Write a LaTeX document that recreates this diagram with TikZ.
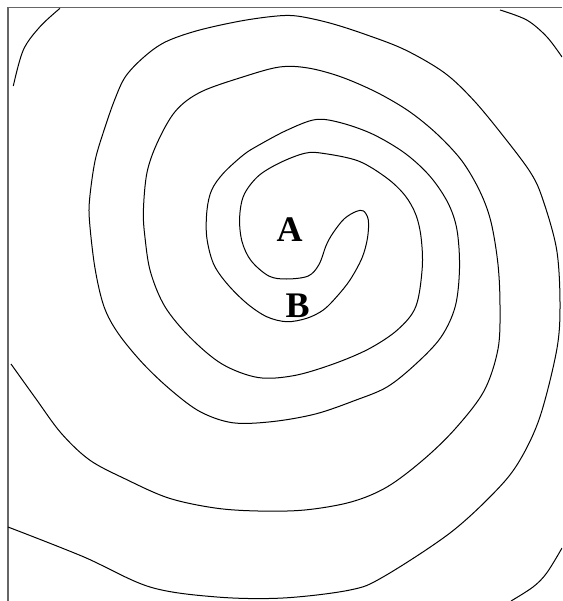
\documentclass[tikz,border=0pt]{standalone}
\usepackage{fontspec}
\setmainfont{Liberation Serif}
\begin{document}
\begin{tikzpicture}[x=1pt,y=-1pt,
  curve/.style={draw=black,line width=1pt,line join=round},
  framestyle/.style={draw=black!60,line width=1.4pt},
  lbl/.style={font=\fontsize{36}{36}\selectfont\bfseries,inner sep=0pt,anchor=base}]
\useasboundingbox (0,0) rectangle (562,601);
\clip (0,0) rectangle (562,601);
% frame
\draw[framestyle] (8,601) -- (8,7.6) -- (562,7.6);
% main double spiral
\draw[curve] plot[smooth,tension=0.55] coordinates {
(11,364) (35.8,398.6) (61,433) (89.6,460) (125.4,479) (168.5,498) (215,508) (258,511) (304.7,510) (351,502) (387,487) (423,460) (455,429) (484,391) (498,349) (500,306.6) (498,264.5) (491,222) (480,191.6) (462,161) (437,134) (408.6,111) (376,92) (340.5,76.7) (308,68) (279.6,67) (243.7,76.7) (200.7,92) (175.6,111) (157.7,141.8) (147,172.5) (143.4,210.8) (145,237.6) (150.5,272) (164.9,306.6) (190,337.3) (222,364) (258,377.5) (294,375.6) (333.3,364) (369,348.8) (397.8,329.6) (415.8,306.6) (422.2,268.3) (421.1,237.6) (415.8,214.6) (405,195.5) (387,178.2) (358.4,161) (322.6,153.3) (304.7,153.3) (279.6,162.9) (258,176.3) (243.7,195.5) (239.6,218.5) (242,241.5) (251,260.6) (268.8,276) (286.7,279) (308.2,276) (319,264.5) (326.2,245.3) (333,233)
(344,219) (356,211.5) (363.5,211) (368.3,220) (367.5,238) (362,258) (350,280) (336.7,296.7) (323.3,310) (306.7,318.3) (286.7,321.7) (266.7,316.7) (246.7,303.3) (226.7,283.3) (213.3,263.3) (206.7,236.7) (207,210) (211.7,190) (223.3,173.3) (243.3,155) (258,145.6) (286.7,130.3) (315.4,119.6) (340.5,122.7) (372.8,134.2) (405,153.3) (430,176.3) (448,203) (457,230) (459.5,268.3) (455.2,306.6) (440.9,337.3) (415.8,364) (387,387) (354.8,400.5) (315.4,414) (272.4,421.6) (233,422.8) (200.7,412) (172,391) (143.4,364) (118.3,333.5) (104,306.6) (95,268.3) (89.6,222.3) (89.6,199.3) (95,161) (104,130.3) (114.7,99.7) (125.4,76.7) (143.4,57.5) (164.9,42.2) (197.1,30.7) (240.1,21.1) (276,16.1) (297.5,16.1) (329.7,23) (365.6,34.5) (405,49.8) (444.4,72.8) (473.1,99.7) (501.8,134.2) (530.5,172.5) (543,200) (556.7,250) (560,305) (556.7,350) (540,416.7) (520,460) (496.7,490) (450,533) (383,577) (350,590) (283,598) (217,597) (150,587) (83.3,556.7) (8,527)};
% outer arm pieces
\draw[curve] plot[smooth,tension=0.55] coordinates {(13.3,86) (23.3,50) (40,26.7) (60,8.3)};
\draw[curve] plot[smooth,tension=0.55] coordinates {(500,10) (526.7,20) (546.7,36.7) (562,57)};
\draw[curve] plot[smooth,tension=0.55] coordinates {(562,548) (546.7,573) (533,587) (511,601)};
% labels
\node[lbl] (A) at (289.5,241) {A};
\node[lbl] (B) at (297.7,317) {B};
\end{tikzpicture}
\end{document}
